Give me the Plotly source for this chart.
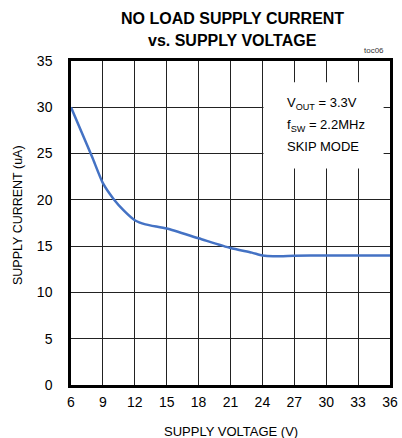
import plotly.graph_objects as go

voltage = [6, 7, 8, 9, 10, 11, 12, 13, 15, 18, 21, 23, 24, 25, 27, 30, 33, 36]
current = [30, 27.3, 24.6, 21.8, 20.1, 18.8, 17.8, 17.35, 16.9, 15.85, 14.8, 14.3, 14.0, 13.9, 13.95, 14.0, 14.0, 14.0]
x_ticks = [6, 9, 12, 15, 18, 21, 24, 27, 30, 33, 36]
y_ticks = [0, 5, 10, 15, 20, 25, 30, 35]
title_lines = ["NO LOAD SUPPLY CURRENT", "vs. SUPPLY VOLTAGE"]
note_lines = ["V<sub>OUT</sub> = 3.3V", "f<sub>SW</sub> = 2.2MHz", "SKIP MODE"]

FONT = "Liberation Sans, Arial, sans-serif"

# plot-area pixel geometry
L, R, T, B = 71, 390, 61, 385
W, H = R - L, B - T


def px(x):
    return (x - L) / W


def py(y):
    return (B - y) / H


fig = go.Figure()
fig.add_trace(go.Scatter(x=voltage, y=current, mode="lines",
                         line=dict(color="#4472C4", width=2.5, shape="spline", smoothing=0.6),
                         showlegend=False, hoverinfo="skip"))

fig.add_shape(type="rect", xref="x", yref="y", x0=24.1, x1=35.4, y0=23.4, y1=32.7,
              fillcolor="white", line=dict(width=0), layer="above")

for txt, yy in zip(note_lines, [103, 125, 146]):
    fig.add_annotation(xref="paper", yref="paper", x=px(285), y=py(yy), xanchor="left",
                       yanchor="middle", align="left", showarrow=False, text=txt,
                       font=dict(family=FONT, size=13, color="black"))

for txt, yy in zip(title_lines, [18, 41]):
    fig.add_annotation(xref="paper", yref="paper", x=px(232), y=py(yy), xanchor="center",
                       yanchor="middle", showarrow=False, text="<b>" + txt + "</b>",
                       font=dict(family=FONT, size=16, color="black"))

fig.add_annotation(xref="paper", yref="paper", x=px(386), y=py(50.5), xanchor="right",
                   yanchor="middle", showarrow=False, text="toc06",
                   font=dict(family=FONT, size=8, color="#333"))

fig.add_annotation(xref="paper", yref="paper", x=px(231), y=py(431), xanchor="center",
                   yanchor="middle", showarrow=False, text="SUPPLY VOLTAGE (V)",
                   font=dict(family=FONT, size=13, color="black"))

fig.add_annotation(xref="paper", yref="paper", x=px(18), y=py(215), xanchor="center",
                   yanchor="middle", showarrow=False, text="SUPPLY CURRENT (uA)", textangle=-90,
                   font=dict(family=FONT, size=12.5, color="black"))

fig.update_layout(
    width=402, height=438,
    margin=dict(l=L, r=402 - R, t=T, b=438 - B, autoexpand=False),
    paper_bgcolor="white", plot_bgcolor="white",
    font=dict(family=FONT, size=13, color="black"),
)
fig.update_xaxes(range=[6, 36], tickvals=x_ticks, ticktext=[str(v) for v in x_ticks],
                 showgrid=True, gridcolor="#222", gridwidth=1, automargin=False,
                 showline=True, linecolor="black", linewidth=2.5, mirror=True,
                 ticks="outside", ticklen=2, tickcolor="white", zeroline=False,
                 tickfont=dict(size=14))
fig.update_yaxes(range=[0, 35], tickvals=y_ticks, ticktext=[str(v) for v in y_ticks],
                 showgrid=True, gridcolor="#222", gridwidth=1, automargin=False,
                 showline=True, linecolor="black", linewidth=2.5, mirror=True,
                 ticks="outside", ticklen=13, tickcolor="white", zeroline=False,
                 tickfont=dict(size=14))

fig.write_html("out.html", config={"displayModeBar": False},
               post_script="document.body.style.margin='0';document.body.style.overflow='hidden';")
